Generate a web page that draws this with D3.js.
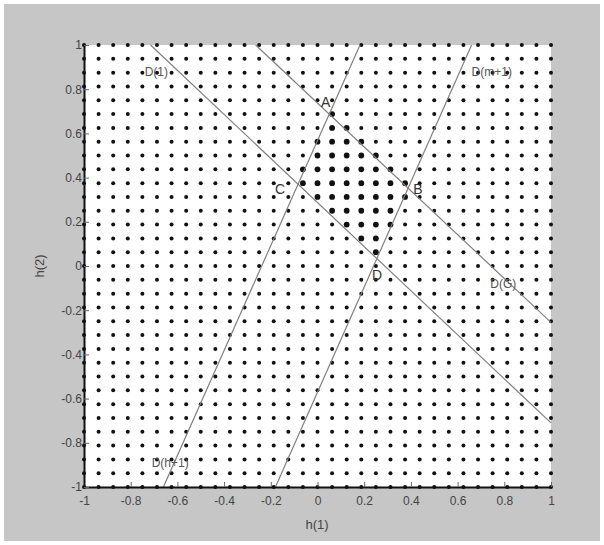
<!DOCTYPE html>
<html>
<head>
  <meta charset="utf-8">
  <title>h(1) h(2) feasible region</title>
  <script src="https://cdn.jsdelivr.net/npm/d3@7"></script>
</head>
<style>
  html,
  body {
    margin: 0;
    padding: 0;
    background: #fff;
    overflow: hidden
  }

  svg {
    font-family: "Liberation Sans", Arial, sans-serif;
  }
</style>
<body>
  <div id="chart"></div>
</body>
<script>
  // grid of sample points, step 1/16 on both axes
  const gridStart = -1
  const gridStop = 1
  const gridStep = 0.0625

  const xTicks = [-1, -0.8, -0.6, -0.4, -0.2, 0, 0.2, 0.4, 0.6, 0.8, 1]
  const xTickLabels = ['-1', '-0.8', '-0.6', '-0.4', '-0.2', '0', '0.2', '0.4', '0.6', '0.8', '1']
  const yTicks = [-1, -0.8, -0.6, -0.4, -0.2, 0, 0.2, 0.4, 0.6, 0.8, 1]
  const yTickLabels = ['-1', '-0.8', '-0.6', '-0.4', '-0.2', '0', '0.2', '0.4', '0.6', '0.8', '1']

  // constraint lines, two end points each, [h1, h2]
  const lineNames = ['D(1)', 'D(G)', 'D(h+1)', 'D(m+1)']
  const lineEnds = [
    [[-0.715, 1], [1, -0.71]],
    [[-0.265, 1], [1, -0.255]],
    [[-0.66, -1], [0.182, 1]],
    [[-0.18, -1], [0.66, 1]]
  ]
  // where each line's name sits, [h1, h2]
  const lineLabelAt = [[-0.74, 0.88], [0.74, -0.08], [-0.71, -0.89], [0.66, 0.88]]

  // corner points of the region
  const cornerNames = ['A', 'B', 'C', 'D']
  const cornerLabelAt = [[0.035, 0.74], [0.43, 0.35], [-0.16, 0.35], [0.255, -0.04]]

  const W = 604, H = 545
  const svg = d3.select('#chart').append('svg')
    .attr('width', W)
    .attr('height', H)

  svg.append('rect')
    .attr('x', 4).attr('y', 4)
    .attr('width', W - 8).attr('height', H - 8)
    .attr('fill', '#c6c6c6')

  const x = d3.scaleLinear().domain([-1, 1]).range([84, 551])
  const y = d3.scaleLinear().domain([-1, 1]).range([487, 45])

  svg.append('rect')
    .attr('x', x(-1)).attr('y', y(1))
    .attr('width', x(1) - x(-1)).attr('height', y(-1) - y(1))
    .attr('fill', '#fff')

  // side of a line test, with a small slack so points on the edge count
  const side = (l, p) => {
    const [a, b] = l
    return (b[0] - a[0]) * (p[1] - a[1]) - (b[1] - a[1]) * (p[0] - a[0])
  }
  const centre = [0.15, 0.36]
  const inside = p => lineEnds.every(l => {
    const s0 = side(l, centre)
    const len = Math.hypot(l[1][0] - l[0][0], l[1][1] - l[0][1])
    return Math.sign(s0) * side(l, p) / len > -0.012
  })

  const grid = []
  const n = Math.round((gridStop - gridStart) / gridStep)
  for (let i = 0; i <= n; i++) {
    for (let j = 0; j <= n; j++) {
      grid.push([gridStart + i * gridStep, gridStart + j * gridStep])
    }
  }

  svg.append('g')
    .selectAll('circle')
    .data(grid)
    .enter().append('circle')
    .attr('cx', d => x(d[0]))
    .attr('cy', d => y(d[1]))
    .attr('r', d => inside(d) ? 2.9 : 2)
    .attr('fill', '#111')

  svg.append('g')
    .selectAll('line')
    .data(lineEnds)
    .enter().append('line')
    .attr('x1', d => x(d[0][0]))
    .attr('y1', d => y(d[0][1]))
    .attr('x2', d => x(d[1][0]))
    .attr('y2', d => y(d[1][1]))
    .attr('stroke', '#808080')
    .attr('stroke-width', 1.2)

  svg.append('g')
    .selectAll('text')
    .data(lineNames)
    .enter().append('text')
    .attr('x', (d, i) => x(lineLabelAt[i][0]))
    .attr('y', (d, i) => y(lineLabelAt[i][1]))
    .attr('dy', '0.35em')
    .attr('font-size', 12)
    .attr('fill', '#555')
    .text(d => d)

  svg.append('g')
    .selectAll('text')
    .data(cornerNames)
    .enter().append('text')
    .attr('x', (d, i) => x(cornerLabelAt[i][0]))
    .attr('y', (d, i) => y(cornerLabelAt[i][1]))
    .attr('dy', '0.35em')
    .attr('text-anchor', 'middle')
    .attr('font-size', 14)
    .attr('fill', '#333')
    .text(d => d)

  const xAxis = svg.append('g')
    .attr('transform', 'translate(0,' + y(-1) + ')')
    .call(d3.axisBottom(x)
      .tickValues(xTicks)
      .tickFormat((d, i) => xTickLabels[i])
      .tickSizeInner(-5)
      .tickSizeOuter(0)
      .tickPadding(9))
  const yAxis = svg.append('g')
    .attr('transform', 'translate(' + x(-1) + ',0)')
    .call(d3.axisLeft(y)
      .tickValues(yTicks)
      .tickFormat((d, i) => yTickLabels[i])
      .tickSizeInner(-5)
      .tickSizeOuter(0)
      .tickPadding(2))

  ;[xAxis, yAxis].forEach(g => {
    g.select('.domain').attr('stroke', '#111').attr('stroke-width', 2)
    g.selectAll('.tick line').attr('stroke', '#666')
    g.selectAll('.tick text')
      .attr('font-family', '"Liberation Sans", Arial, sans-serif')
      .attr('font-size', 12)
      .attr('fill', '#444')
  })

  svg.append('text')
    .attr('x', 317)
    .attr('y', 529)
    .attr('text-anchor', 'middle')
    .attr('font-size', 13)
    .attr('fill', '#444')
    .text('h(1)')

  svg.append('text')
    .attr('transform', 'translate(44,' + y(0) + ') rotate(-90)')
    .attr('text-anchor', 'middle')
    .attr('font-size', 13)
    .attr('fill', '#444')
    .text('h(2)')
</script>
</html>
